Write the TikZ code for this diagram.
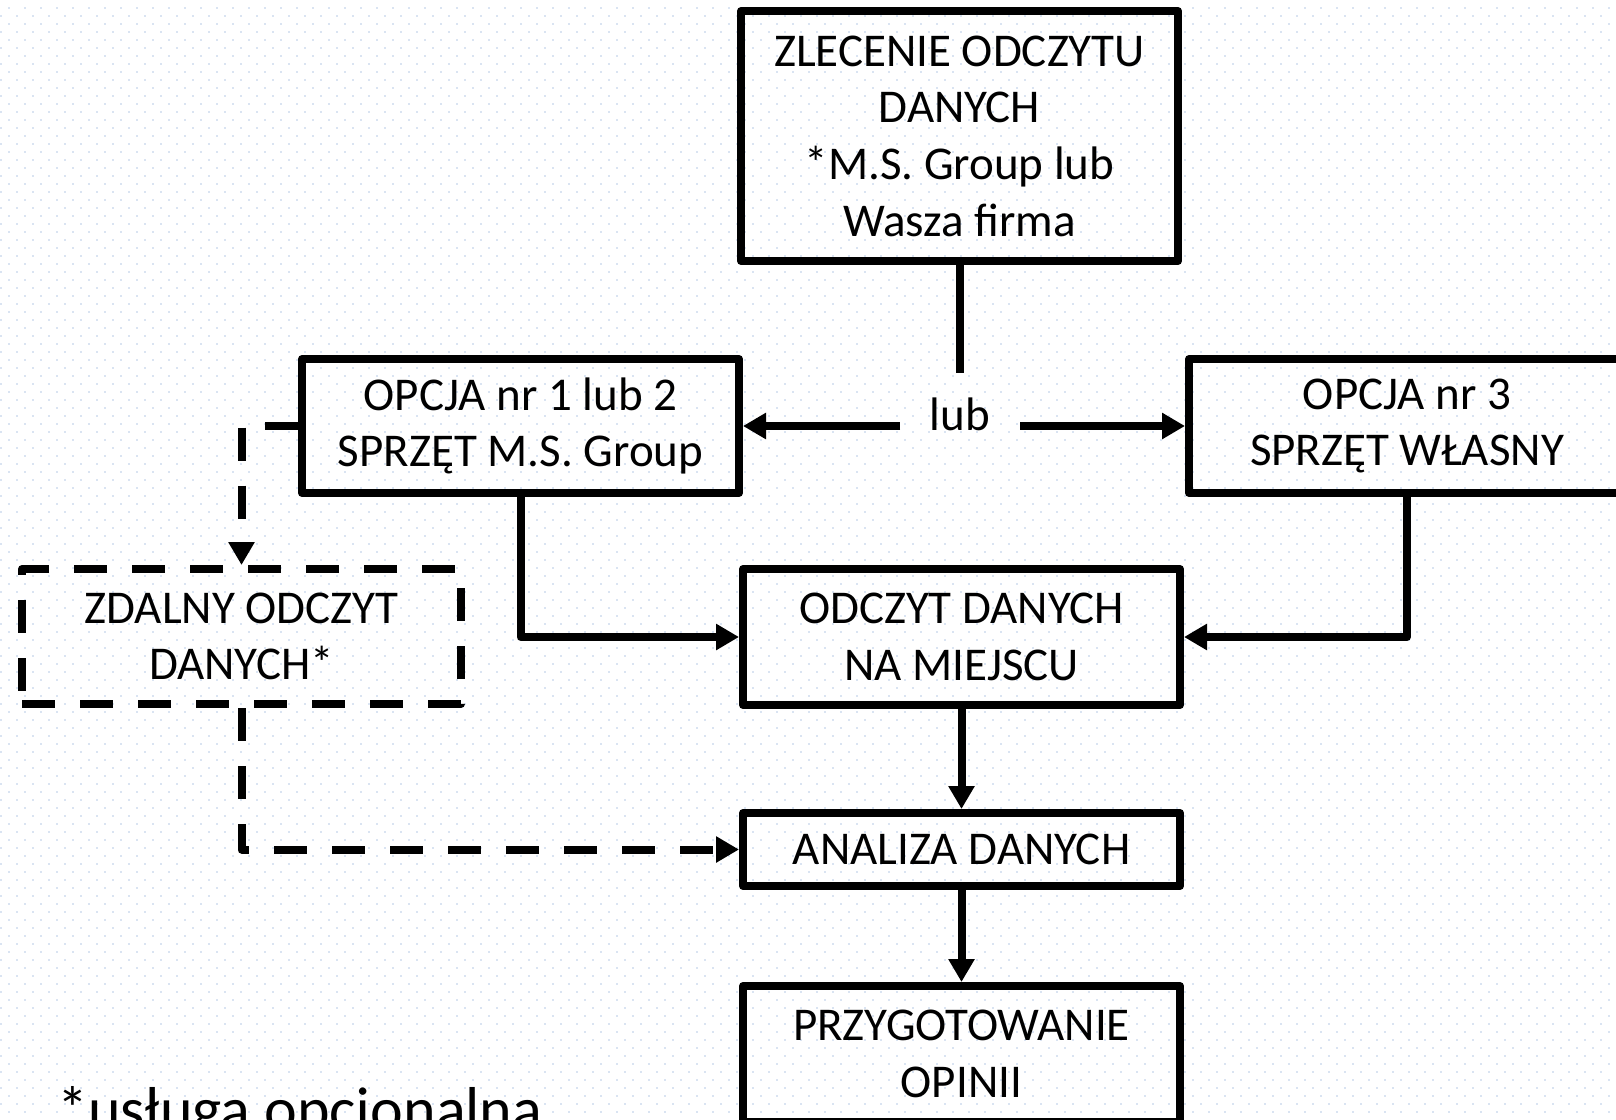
\documentclass[tikz,border=0pt]{standalone}
\usepackage{fontspec}
\setmainfont{Carlito}
\usetikzlibrary{arrows.meta}
\definecolor{gridDot}{RGB}{218,228,242}
\begin{document}
\begin{tikzpicture}[x=1pt,y=-1pt,
  box/.style={draw=black, line width=8pt, line join=round, minimum width=437pt, align=center, inner sep=0pt, font=\fontsize{47}{56.7}\selectfont},
  dbox/.style={box, dash pattern=on 33pt off 25pt},
  conn/.style={line width=8pt, line join=round},
  arr/.style={conn, -{Triangle[length=23pt,width=25pt]}},
  darr/.style={arr, dash pattern=on 33pt off 25pt},
  txt/.style={font=\fontsize{47}{56.7}\selectfont, inner sep=0pt}
]
\useasboundingbox (0,0) rectangle (1616,1119);
\fill[white] (0,0) rectangle (1616,1119);
\foreach \yy in {7.5,23.5,...,1119} \draw[gridDot, line width=2pt, dash pattern=on 2pt off 14pt, dash phase=8pt] (0,\yy) -- (1616,\yy);
\foreach \yy in {15.5,31.5,...,1119} \draw[gridDot, line width=2pt, dash pattern=on 2pt off 14pt] (0,\yy) -- (1616,\yy);

\node[box, minimum height=250pt] (zlec) at (959.5,136) {ZLECENIE ODCZYTU\\DANYCH\\*M.S. Group lub\\Wasza firma};
\node[box, minimum height=134pt] (opc12) at (520.5,426) {OPCJA nr 1 lub 2\\SPRZĘT M.S. Group};
\node[box, minimum width=436pt, minimum height=134pt] (opc3) at (1407,426) {OPCJA nr 3\\SPRZĘT WŁASNY};
\node[box, minimum height=136pt] (odcz) at (961.5,637) {ODCZYT DANYCH\\NA MIEJSCU};
\node[box, minimum height=73pt] (anal) at (961.5,849.5) {ANALIZA DANYCH};
\node[box, minimum height=136pt] (przyg) at (961.5,1054) {PRZYGOTOWANIE\\OPINII};
\node[dbox, minimum width=439pt, minimum height=135pt] (zdal) at (241.5,636.5) {ZDALNY ODCZYT\\DANYCH*};
\node[txt, anchor=base] (lub) at (960,430) {lub};
\node[anchor=base west, inner sep=0pt, font=\fontsize{62}{74}\selectfont] (note) at (57,1130) {*usługa opcjonalna};

\coordinate (lubtop) at (959.5,373);
\coordinate (lubL) at (900,426);
\coordinate (lubR) at (1020,426);

\draw[conn] (zlec.south) -- (lubtop);
\draw[arr] (lubL) -- (opc12.east);
\draw[arr] (lubR) -- (opc3.west);
\draw[arr] (opc12.south) |- (odcz.west);
\draw[arr] (opc3.south) |- (odcz.east);
\draw[arr] (odcz.south) -- (anal.north);
\draw[arr] (anal.south) -- (przyg.north);
\draw[darr] (opc12.west) -| (zdal.north);
\draw[darr] (zdal.south) |- (anal.west);
\end{tikzpicture}
\end{document}
